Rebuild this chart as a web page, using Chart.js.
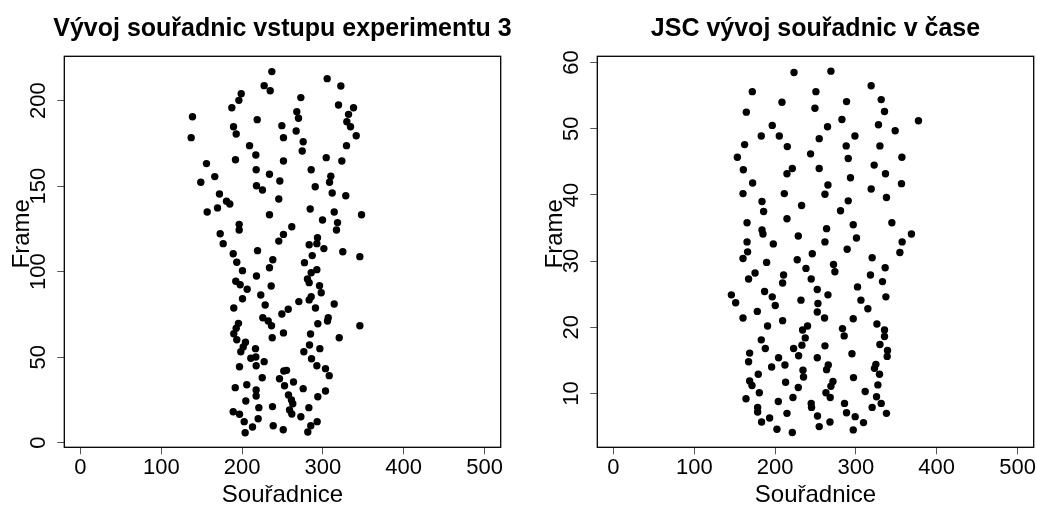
<!DOCTYPE html>
<html><head><meta charset="utf-8">
<script src="https://cdn.jsdelivr.net/npm/chart.js@4"></script>
<style>
html,body{margin:0;padding:0;background:#fff;overflow:hidden;width:1037px;height:507px;}
canvas{position:absolute;top:0;}
#c1{left:0px}
#c2{left:533px}
</style></head>
<body>
<canvas id="c1" width="565" height="507"></canvas>
<canvas id="c2" width="565" height="507"></canvas>
<script>
const FONT = "'Liberation Sans', Arial, Helvetica, sans-serif";

const leftTitle = 'Vývoj souřadnic vstupu experimentu 3';
const rightTitle = 'JSC vývoj souřadnic v čase';
const xLabel = 'Souřadnice';
const yLabel = 'Frame';

const xTicks = [0, 100, 200, 300, 400, 500];
const leftYTicks = [0, 50, 100, 150, 200];
const rightYTicks = [10, 20, 30, 40, 50, 60];

const leftX = [
 236.8,305.3,322.2,227.3,234.8,198.9,196.0,187.3,272.7,319.3,337.9,138.6,267.7,269.8,331.7,329.6,218.7,189.4,192.7,249.2,
 251.2,266.9,334.2,341.2,137.0,275.6,274.4,209.2,217.0,329.2,155.9,191.8,251.2,304.1,323.4,166.2,217.4,233.9,285.5,309.8,
 148.9,246.7,308.2,217.8,225.2,290.5,172.0,311.5,328.3,245.4,180.7,184.8,169.6,156.8,284.3,314.0,347.8,233.9,299.5,318.1,
 261.5,196.4,196.4,316.8,172.9,251.2,245.4,293.3,292.5,283.0,176.6,301.2,324.6,345.7,219.1,189.0,286.8,238.0,193.4,277.2,
 233.9,200.5,292.5,285.5,217.8,280.9,192.2,283.0,197.6,295.8,236.0,206.3,297.9,223.1,285.5,283.0,200.5,270.2,314.0,228.6,
 189.7,257.1,290.8,
 249.2,225.6,232.3,236.4,306.6,305.7,293.7,345.7,195.5,192.7,189.7,251.2,284.7,320.2,237.3,193.4,204.2,201.4,198.4,216.6,
 283.4,296.2,276.4,210.8,217.0,285.9,227.3,292.5,196.8,217.4,303.2,251.6,255.0,307.8,224.9,246.3,263.6,205.8,252.5,191.5,
 217.4,275.6,303.2,217.4,257.4,293.7,261.1,204.6,262.7,237.6,220.7,282.6,258.7,189.0,196.8,261.5,272.7,219.9,202.6,292.9,
 285.0,238.5,212.9,250.9,203.8,281.3
];
const leftY = [
 217.0,212.9,208.6,208.8,205.8,204.1,200.2,195.9,201.8,197.5,195.9,190.6,193.6,189.7,192.0,187.7,188.9,184.8,180.5,185.4,
 178.4,182.3,184.8,179.5,178.4,176.0,170.6,173.7,168.2,173.7,163.2,165.5,164.7,166.7,164.7,155.6,159.6,157.0,159.6,155.8,
 152.3,153.0,152.3,150.3,147.8,149.7,145.4,146.0,144.4,142.5,141.2,139.6,137.3,134.9,136.7,134.9,133.3,133.3,130.2,128.7,
 126.3,127.7,124.4,124.4,122.2,121.8,117.9,119.9,116.4,115.8,116.4,113.5,111.7,108.8,112.3,110.5,109.4,107.0,105.5,105.3,
 102.3,100.6,101.2,99.4,97.5,95.7,94.4,93.6,92.4,91.8,91.6,89.7,87.7,86.4,85.4,83.5,84.2,82.5,81.1,80.5,
 78.8,78.0,78.8,
 75.3,73.1,71.2,68.4,73.1,71.2,69.6,68.4,69.8,66.9,63.7,64.2,63.6,61.4,61.4,60.2,58.7,56.0,53.2,55.0,
 57.1,55.0,53.2,49.4,50.1,49.1,47.4,45.0,44.4,45.0,43.3,41.9,42.3,39.2,38.0,37.4,35.5,33.9,33.3,32.2,
 30.8,31.6,30.2,27.3,27.9,26.9,25.0,24.4,22.8,21.1,20.5,20.5,19.1,18.1,16.6,16.8,15.2,14.0,12.3,12.3,
 9.9,9.9,9.2,7.6,5.8,6.3
];

const rightX = [
 223.4,269.1,318.9,171.8,250.5,331.3,208.5,288.4,164.4,249.3,335.4,377.4,282.7,196.5,264.9,327.9,348.6,182.9,205.2,298.8,
 254.6,162.3,215.1,288.0,329.7,243.9,153.3,290.5,356.9,322.6,160.7,221.3,214.7,254.6,336.6,293.3,
 172.2,265.4,356.4,318.9,160.3,211.4,261.7,337.8,183.8,290.5,232.8,185.8,281.0,214.7,165.3,344.5,296.7,183.8,185.0,263.7,
 368.7,228.7,300.7,165.3,197.8,261.7,357.2,289.2,166.0,354.4,246.0,160.3,227.4,320.1,189.5,272.3,238.2,274.0,336.2,175.2,
 210.5,318.0,167.2,244.7,332.9,209.3,302.0,187.0,252.2,265.4,145.9,196.5,337.1,151.2,232.0,253.0,306.2,200.2,
 252.2,314.8,178.0,160.3,209.3,261.2,296.7,190.7,240.2,234.0,283.4,326.0,335.4,285.5,335.4,237.3,182.9,329.7,233.2,261.7,
 187.9,222.9,339.1,168.5,295.1,338.7,229.1,204.3,252.2,167.2,212.2,195.7,265.8,263.7,324.7,323.0,329.2,234.5,235.2,179.2,
 297.0,168.5,171.4,213.0,271.6,269.1,327.2,228.7,262.9,268.2,180.5,311.5,164.0,222.1,325.5,331.3,204.0,285.9,244.7,245.1,
 178.4,320.1,178.4,214.7,288.4,337.8,299.1,252.5,193.2,183.3,267.9,309.4,202.3,221.3,296.7,254.6
];
const rightY = [
 58.5,58.7,56.5,55.6,55.6,54.4,54.0,54.1,52.5,53.1,52.6,51.2,51.4,50.5,50.3,50.6,49.7,48.9,48.9,48.9,
 48.5,47.6,47.3,47.4,47.4,46.2,45.7,45.5,45.7,44.5,43.8,44.0,43.2,44.0,43.2,42.6,
 41.8,41.5,41.7,40.9,40.2,40.2,40.1,39.6,39.0,39.1,38.4,37.5,37.6,36.4,35.8,35.8,35.5,34.7,34.1,34.9,
 34.1,33.8,33.5,32.9,32.6,32.9,32.9,31.8,31.4,31.3,31.1,30.4,30.2,30.5,29.8,29.5,28.9,28.4,29.0,28.2,
 27.9,27.9,27.3,27.3,26.9,26.7,26.1,25.4,25.7,24.9,24.9,24.6,24.6,23.7,24.1,23.6,24.1,23.3,
 22.3,22.8,22.4,21.4,21.0,21.4,21.3,20.2,20.2,19.6,19.8,20.5,19.6,18.7,18.6,18.4,18.1,17.4,17.3,17.2,
 16.8,16.8,16.5,16.1,16.0,15.6,15.7,15.4,15.4,14.8,14.3,14.0,14.3,13.6,14.4,13.8,12.9,13.5,12.5,12.9,
 12.4,11.9,11.2,11.7,11.8,11.1,11.3,10.9,10.1,9.4,10.1,10.3,9.2,9.4,9.5,8.5,8.8,8.5,8.5,7.9,
 7.9,7.9,7.2,7.0,7.1,7.0,6.5,6.6,6.3,5.7,5.7,5.6,4.6,4.1,4.5,5.0
];

const boxPlugin = {
  id: 'rbox',
  afterDraw(chart) {
    const {ctx, chartArea: a} = chart;
    ctx.save();
    ctx.strokeStyle = '#000';
    ctx.lineWidth = 1.3;
    ctx.strokeRect(a.left, a.top, a.right - a.left, a.bottom - a.top);
    // y-axis title (R style, rotated)
    ctx.font = '24px ' + FONT;
    ctx.fillStyle = '#000';
    ctx.textAlign = 'center';
    ctx.textBaseline = 'middle';
    ctx.translate(22, (a.top + a.bottom) / 2 - 18);
    ctx.rotate(-Math.PI / 2);
    ctx.fillText(yLabel, 0, 0);
    ctx.restore();
  }
};

function makeChart(id, title, xs, ys, yTicks, yMin, yMax, yTickPad) {
  const pts = xs.map((x, i) => ({x: x, y: ys[i]}));
  return new Chart(document.getElementById(id), {
    type: 'scatter',
    data: { datasets: [{ data: pts, pointRadius: 3.7, pointHoverRadius: 3.7,
      pointBackgroundColor: '#000', pointBorderWidth: 0, showLine: false }] },
    plugins: [boxPlugin],
    options: {
      responsive: false, animation: false, devicePixelRatio: 1,
      layout: { padding: 0 },
      plugins: {
        legend: { display: false }, tooltip: { enabled: false },
        title: { display: true, text: title, color: '#000',
          font: { family: FONT, size: 25, weight: 'bold', lineHeight: 1.2 },
          padding: { top: 14, bottom: 12.3 } }
      },
      scales: {
        x: {
          type: 'linear', min: -20, max: 520,
          afterBuildTicks: s => { s.ticks = xTicks.map(v => ({value: v})); },
          afterFit: s => { s.height = 59.7; },
          border: { display: false },
          grid: { drawOnChartArea: false, drawTicks: true, tickLength: 7, color: '#555', lineWidth: 1 },
          ticks: { font: { family: FONT, size: 22 }, color: '#000', padding: 0, maxRotation: 0, autoSkip: false },
          title: { display: true, text: xLabel, color: '#000',
            font: { family: FONT, size: 24, lineHeight: 1 }, padding: { top: 0, bottom: 0 } }
        },
        y: {
          type: 'linear', position: 'left', min: yMin, max: yMax,
          afterBuildTicks: s => { s.ticks = yTicks.map(v => ({value: v})); },
          afterFit: s => { s.width = 64.3; },
          border: { display: false },
          grid: { drawOnChartArea: false, drawTicks: true, tickLength: 7, color: '#555', lineWidth: 1 },
          ticks: { font: { family: FONT, size: 22 }, color: '#000', padding: yTickPad,
            minRotation: 90, maxRotation: 90, crossAlign: 'center', autoSkip: false },
          title: { display: false }
        },
        spacer: {
          type: 'linear', position: 'right', display: true,
          afterFit: s => { s.width = 64.3; },
          border: { display: false },
          grid: { display: false, drawTicks: false },
          ticks: { display: false },
          title: { display: false }
        }
      }
    }
  });
}

makeChart('c1', leftTitle, leftX, leftY, leftYTicks, -2.69, 225.96, -0.4);
makeChart('c2', rightTitle, rightX, rightY, rightYTicks, 1.87, 60.94, 5.8);
</script>
</body></html>
